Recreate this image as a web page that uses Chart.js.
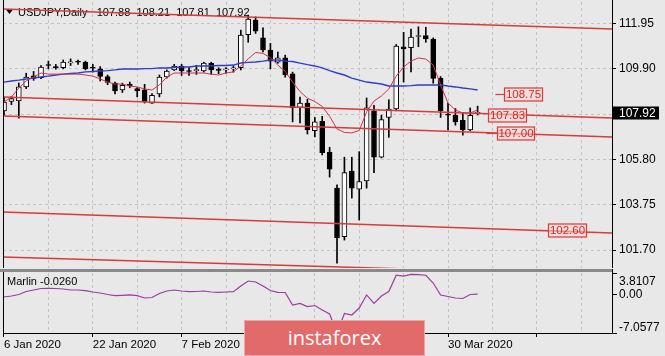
<!DOCTYPE html>
<html><head><meta charset="utf-8">
<script src="https://cdn.jsdelivr.net/npm/chart.js@4/dist/chart.umd.min.js"></script>
<style>
html,body{margin:0;padding:0;background:#e8e8e8;width:665px;height:356px;overflow:hidden;position:relative}
#c1{position:absolute;left:0;top:0}
#c2{position:absolute;left:0;top:269px}
#logo{position:absolute;left:244px;top:320px;width:181px;height:36px;background:#e36a6a;color:#fff;font:20px 'Open Sans',Roboto,sans-serif;display:flex;align-items:center;justify-content:center;box-sizing:border-box;border:1px solid rgba(255,255,255,0.4);padding-bottom:2px}
</style></head><body>
<canvas id="c1" width="665" height="269"></canvas>
<canvas id="c2" width="665" height="87"></canvas>
<div id="logo">instaforex</div>
<script>
// ---------------- DATA ----------------
const symbol = 'USDJPY', timeframe = 'Daily';
const dates = ['6 Jan 2020','7 Jan 2020','8 Jan 2020','9 Jan 2020','10 Jan 2020','13 Jan 2020','14 Jan 2020','15 Jan 2020','16 Jan 2020','17 Jan 2020',
 '20 Jan 2020','21 Jan 2020','22 Jan 2020','23 Jan 2020','24 Jan 2020','27 Jan 2020','28 Jan 2020','29 Jan 2020','30 Jan 2020','31 Jan 2020',
 '3 Feb 2020','4 Feb 2020','5 Feb 2020','6 Feb 2020','7 Feb 2020','10 Feb 2020','11 Feb 2020','12 Feb 2020','13 Feb 2020','14 Feb 2020',
 '17 Feb 2020','18 Feb 2020','19 Feb 2020','20 Feb 2020','21 Feb 2020','24 Feb 2020','25 Feb 2020','26 Feb 2020','27 Feb 2020','28 Feb 2020',
 '2 Mar 2020','3 Mar 2020','4 Mar 2020','5 Mar 2020','6 Mar 2020','9 Mar 2020','10 Mar 2020','11 Mar 2020','12 Mar 2020','13 Mar 2020',
 '16 Mar 2020','17 Mar 2020','18 Mar 2020','19 Mar 2020','20 Mar 2020','23 Mar 2020','24 Mar 2020','25 Mar 2020','26 Mar 2020','27 Mar 2020',
 '30 Mar 2020','31 Mar 2020','1 Apr 2020','2 Apr 2020','3 Apr 2020'];
const open = [108.00,108.42,108.45,109.08,109.58,109.50,110.08,110.00,109.95,110.17,
 110.22,110.20,109.95,109.90,109.55,109.25,108.95,109.20,109.00,108.95,
 108.35,108.76,109.53,109.85,110.02,109.80,109.82,109.80,110.15,109.85,
 109.85,109.90,109.95,111.45,112.10,111.30,110.75,110.20,110.40,109.67,
 108.15,108.35,107.10,107.52,106.13,104.50,102.30,105.27,104.45,104.83,
 108.00,105.90,107.70,108.08,110.90,110.86,111.36,111.40,111.25,109.47,
 107.85,107.80,107.57,107.13,107.88];
const high = [108.62,108.65,109.26,109.70,109.78,110.05,110.25,110.10,110.30,110.35,
 110.30,110.25,110.10,110.00,109.62,109.30,109.25,109.30,109.05,109.20,
 108.78,109.62,109.85,110.10,110.10,109.95,110.05,110.20,110.20,109.95,
 109.95,110.03,111.65,112.33,112.25,111.75,111.05,110.66,110.52,109.75,
 108.62,108.52,107.70,107.75,106.35,104.65,105.90,105.90,106.15,108.58,
 108.25,107.80,108.50,111.00,111.55,111.70,111.80,111.78,111.30,109.55,
 108.35,108.10,107.93,108.13,108.21];
const low = [107.80,108.28,107.67,109.00,109.38,109.45,109.90,109.88,109.90,110.05,
 110.10,109.85,109.75,109.35,109.18,108.76,108.83,109.04,108.63,108.35,
 108.33,108.63,109.48,109.82,109.60,109.60,109.65,109.75,109.65,109.68,
 109.70,109.75,109.85,111.10,111.50,110.66,109.90,110.15,109.52,107.50,
 107.45,106.95,106.82,106.00,105.00,101.11,102.15,104.05,103.06,104.50,
 105.20,105.87,106.80,108.00,109.30,109.76,110.90,111.10,109.25,107.70,
 107.13,107.35,106.90,107.10,107.81];
const close = [108.40,108.55,109.08,109.53,109.47,109.98,110.05,109.95,110.20,110.20,
 110.20,109.90,109.93,109.55,109.28,108.90,109.15,109.13,108.90,108.40,
 108.70,109.53,109.80,110.02,109.80,109.78,109.85,110.16,109.85,109.83,
 109.88,109.93,111.43,112.15,111.60,110.75,110.25,110.40,109.62,108.13,
 108.35,107.13,107.50,106.10,105.36,102.25,105.20,104.50,104.80,108.13,
 105.90,107.60,108.08,110.93,110.80,111.34,111.40,111.25,109.47,108.00,
 107.80,107.50,107.13,107.80,107.92];
const maFast = [108.40,108.62,109.03,109.35,109.53,109.71,109.66,109.66,109.66,109.66,
 109.66,109.62,109.57,109.44,109.30,109.21,109.21,109.12,109.08,108.99,
 108.94,109.17,109.53,109.71,109.71,109.71,109.71,109.71,109.66,109.62,
 109.71,109.76,110.03,110.35,110.64,110.60,110.40,110.07,109.78,109.30,
 108.87,108.57,108.42,108.20,107.75,107.18,107.02,107.00,107.11,107.95,
 108.44,108.67,108.99,109.57,109.98,110.25,110.39,110.34,110.07,109.17,
 108.35,108.04,107.90,107.90,108.04];
const maSlow = [109.30,109.35,109.39,109.44,109.48,109.53,109.57,109.62,109.66,109.69,
 109.71,109.76,109.78,109.80,109.82,109.85,109.89,109.89,109.89,109.91,
 109.91,109.94,109.94,109.96,109.98,109.98,110.03,110.03,110.03,110.05,
 110.05,110.07,110.16,110.19,110.21,110.25,110.30,110.30,110.25,110.23,
 110.16,110.09,110.03,109.94,109.82,109.71,109.62,109.48,109.39,109.30,
 109.26,109.21,109.12,109.12,109.12,109.14,109.17,109.17,109.17,109.17,
 109.12,109.08,109.03,108.99,108.94];
const marlin = [-0.54,-0.36,-0.08,0.46,0.73,1.00,1.04,1.00,0.91,0.73,
 0.73,0.63,0.37,0.19,-0.08,-0.30,-0.23,-0.17,-0.30,-0.72,
 -0.63,0.10,0.55,0.73,0.55,0.42,0.46,0.55,0.37,0.31,
 0.37,0.42,1.46,2.36,2.18,1.46,0.64,0.31,0.28,-1.99,
 -1.71,-2.26,-2.08,-2.89,-3.62,-7.06,-3.53,-3.80,-2.53,-0.17,
 -1.71,-0.36,0.46,3.40,3.25,3.55,3.50,3.40,2.00,-0.17,
 -0.45,-0.72,-0.81,-0.08,-0.026];
const priceTicks = [101.70,103.75,105.80,107.85,109.90,111.95];
const marlinTicks = [3.8107,0.00,-7.0577];
const channelStart = [112.61,108.62,107.76,103.42,101.38];
const channelEnd = [111.70,107.67,106.81,102.47,100.57];
const levels = [108.75,107.83,107.00,102.60];

// ---------------- LAYOUT / STYLE ----------------
const X_MIN = -0.135, X_MAX = 82.16;
const Y_MIN = 100.887, Y_MAX = 112.923;
const CH_X0 = -0.2, CH_X1 = 82.3;
const levelPos = [{line:66.4, box:67.5, w:38},{line:null, box:65.4, w:38},{line:65.2, box:66.6, w:37},{line:72.3, box:73.5, w:38}];
const gridIdx = []; for (let v = 0; v <= 78; v += 6) gridIdx.push(v);
const FONT = "'Liberation Sans', Arial, sans-serif";
const GRID = '#c3c3c3';
const RED = '#d93a3a';

const N = dates.length;
const last = N - 1;
const bodyData = dates.map((d,i)=>({x:i, y:[Math.min(open[i],close[i]), Math.max(open[i],close[i])]}));
const wickData = dates.map((d,i)=>({x:i, y:[low[i], high[i]]}));
const bodyColors = dates.map((d,i)=> close[i] >= open[i] ? '#ffffff' : '#000000');
const channelSets = channelStart.map((s,k)=>({
  type:'line', data:[{x:CH_X0,y:s},{x:CH_X1,y:channelEnd[k]}],
  borderColor:RED, borderWidth:1.5, pointRadius:0, order:0
}));

const mainDeco = {
  id:'mainDeco',
  beforeDatasetsDraw(chart){
    const ctx = chart.ctx;
    ctx.save();
    ctx.fillStyle = '#000';
    ctx.beginPath(); ctx.moveTo(6,9.5); ctx.lineTo(13,9.5); ctx.lineTo(9.5,14); ctx.closePath(); ctx.fill();
    ctx.font = '11px ' + FONT; ctx.textBaseline = 'middle'; ctx.textAlign = 'left';
    const t = symbol + ',' + timeframe + '   ' + [open[last],high[last],low[last],close[last]].map(v=>v.toFixed(2)).join('  ');
    ctx.fillText(t, 18, 12.5);
    ctx.restore();
  },
  afterDatasetsDraw(chart){
    const ctx = chart.ctx, xs = chart.scales.x, ys = chart.scales.y;
    ctx.save();
    levels.forEach((lv,i)=>{
      const p = levelPos[i];
      const y = Math.round(ys.getPixelForValue(lv)) + 0.5;
      const bx = Math.round(xs.getPixelForValue(p.box)) + 0.5;
      ctx.strokeStyle = RED; ctx.lineWidth = 1.2;
      if (p.line !== null) {
        ctx.beginPath(); ctx.moveTo(xs.getPixelForValue(p.line), y); ctx.lineTo(bx, y); ctx.stroke();
      }
      ctx.fillStyle = 'rgba(250,212,212,0.55)';
      ctx.fillRect(bx, y-6.5, p.w, 13);
      ctx.strokeRect(bx, y-6.5, p.w, 13);
      ctx.fillStyle = '#d42828';
      ctx.font = '11.5px ' + FONT; ctx.textAlign = 'center'; ctx.textBaseline = 'middle';
      ctx.fillText(lv.toFixed(2), bx + p.w/2, y + 0.5);
    });
    ctx.restore();
  },
  afterDraw(chart){
    const ctx = chart.ctx, a = chart.chartArea, ys = chart.scales.y;
    ctx.save();
    ctx.strokeStyle = '#000'; ctx.lineWidth = 1;
    ctx.beginPath();
    ctx.moveTo(a.left+0.5, 0); ctx.lineTo(a.left+0.5, a.bottom);
    ctx.moveTo(a.right+0.5, 0); ctx.lineTo(a.right+0.5, a.bottom);
    ctx.stroke();
    const y = Math.round(ys.getPixelForValue(close[last]));
    ctx.fillStyle = '#000';
    ctx.fillRect(a.right+1, y-6.5, 46, 13);
    ctx.fillStyle = '#fff'; ctx.font = '12px ' + FONT; ctx.textBaseline = 'middle'; ctx.textAlign = 'left';
    ctx.fillText(close[last].toFixed(2), a.right+7, y+0.5);
    ctx.restore();
  }
};

new Chart(document.getElementById('c1'), {
  type:'bar',
  data:{datasets:[
    ...channelSets,
    {type:'line', data:maFast.map((v,i)=>({x:i,y:v})), borderColor:'#cf3350', borderWidth:1, pointRadius:0, order:1},
    {type:'line', data:maSlow.map((v,i)=>({x:i,y:v})), borderColor:'#2f3ccc', borderWidth:1.4, pointRadius:0, order:1},
    {type:'bar', data:bodyData, backgroundColor:bodyColors, borderColor:'#000', borderWidth:1, borderSkipped:false,
      maxBarThickness:5, barPercentage:1, categoryPercentage:1, minBarLength:1, grouped:false, order:2},
    {type:'bar', data:wickData, backgroundColor:'#000', borderWidth:0, maxBarThickness:1,
      barPercentage:1, categoryPercentage:1, grouped:false, order:3}
  ]},
  options:{
    responsive:false, animation:false, devicePixelRatio:1,
    layout:{padding:{left:3,right:0,top:2,bottom:1}},
    plugins:{legend:{display:false}, tooltip:{enabled:false}},
    scales:{
      x:{type:'linear', min:X_MIN, max:X_MAX, offset:false,
        grid:{offset:false, color:GRID, drawTicks:false}, border:{display:false, dash:[3,3]},
        ticks:{display:false},
        afterBuildTicks:s=>{ s.ticks = gridIdx.map(v=>({value:v})); },
        afterFit:s=>{ s.height = 0; s.paddingLeft = 0; s.paddingRight = 0; }},
      y:{type:'linear', position:'right', min:Y_MIN, max:Y_MAX, beginAtZero:false,
        grid:{color:GRID, tickColor:'#000', tickLength:4, tickBorderDash:[]},
        border:{display:false, dash:[3,3]},
        ticks:{color:'#000', padding:3, font:{family:FONT, size:12},
          callback:(v)=> Math.abs(v - close[last]) < 0.3 ? '' : Number(v).toFixed(2)},
        afterBuildTicks:s=>{ s.ticks = priceTicks.map(v=>({value:v})); },
        afterFit:s=>{ s.width = 53; s.paddingTop = 0; s.paddingBottom = 0; }}
    }
  },
  plugins:[mainDeco]
});

const lowerDeco = {
  id:'lowerDeco',
  afterDraw(chart){
    const ctx = chart.ctx, a = chart.chartArea, ys = chart.scales.y;
    ctx.save();
    ctx.fillStyle = '#8a8a8a';
    ctx.fillRect(0, 0, a.right+1, 3);
    ctx.strokeStyle = '#000'; ctx.lineWidth = 1;
    ctx.beginPath();
    ctx.moveTo(a.left+0.5, 3); ctx.lineTo(a.left+0.5, a.bottom+0.5);
    ctx.lineTo(a.right+0.5, a.bottom+0.5); ctx.lineTo(a.right+0.5, 0);
    ctx.stroke();
    ctx.fillStyle = '#000'; ctx.font = '11px ' + FONT; ctx.textBaseline = 'middle'; ctx.textAlign = 'left';
    ctx.fillText('Marlin ' + marlin[last].toFixed(4), 7, 12.5);
    ctx.font = '12px ' + FONT;
    const offs = [8, 0, -5.5];
    marlinTicks.forEach((v,k)=>{
      const py = Math.round(ys.getPixelForValue(v)) + 0.5;
      ctx.beginPath(); ctx.moveTo(a.right+1, py); ctx.lineTo(a.right+5, py); ctx.stroke();
      ctx.fillText(v === 0 ? '0.00' : String(v), a.right+7, py + offs[k]);
    });
    ctx.restore();
  }
};

new Chart(document.getElementById('c2'), {
  type:'line',
  data:{datasets:[{data:marlin.map((v,i)=>({x:i,y:v})), borderColor:'#9b3c9e', borderWidth:1.2, pointRadius:0}]},
  options:{
    responsive:false, animation:false, devicePixelRatio:1,
    layout:{padding:{left:3,right:53,top:4,bottom:0}},
    plugins:{legend:{display:false}, tooltip:{enabled:false}},
    scales:{
      x:{type:'linear', min:X_MIN, max:X_MAX, offset:false,
        grid:{color:GRID, drawTicks:true, tickLength:4, tickBorderDash:[],
          tickColor:(c)=> (c.tick && c.tick.value % 12 === 0) ? '#000' : 'rgba(0,0,0,0)'},
        border:{display:false, dash:[3,3]},
        ticks:{padding:1, align:'start', maxRotation:0, autoSkip:false, color:'#000', font:{family:FONT, size:11.5},
          callback:(v)=> (v % 12 === 0 && dates[v]) ? dates[v] : ''},
        afterBuildTicks:s=>{ s.ticks = gridIdx.map(v=>({value:v})); },
        afterFit:s=>{ s.height = 23; s.paddingLeft = 0; s.paddingRight = 0; }},
      y:{display:false, min:marlinTicks[2], max:marlinTicks[0]}
    }
  },
  plugins:[lowerDeco]
});
</script>
</body></html>
